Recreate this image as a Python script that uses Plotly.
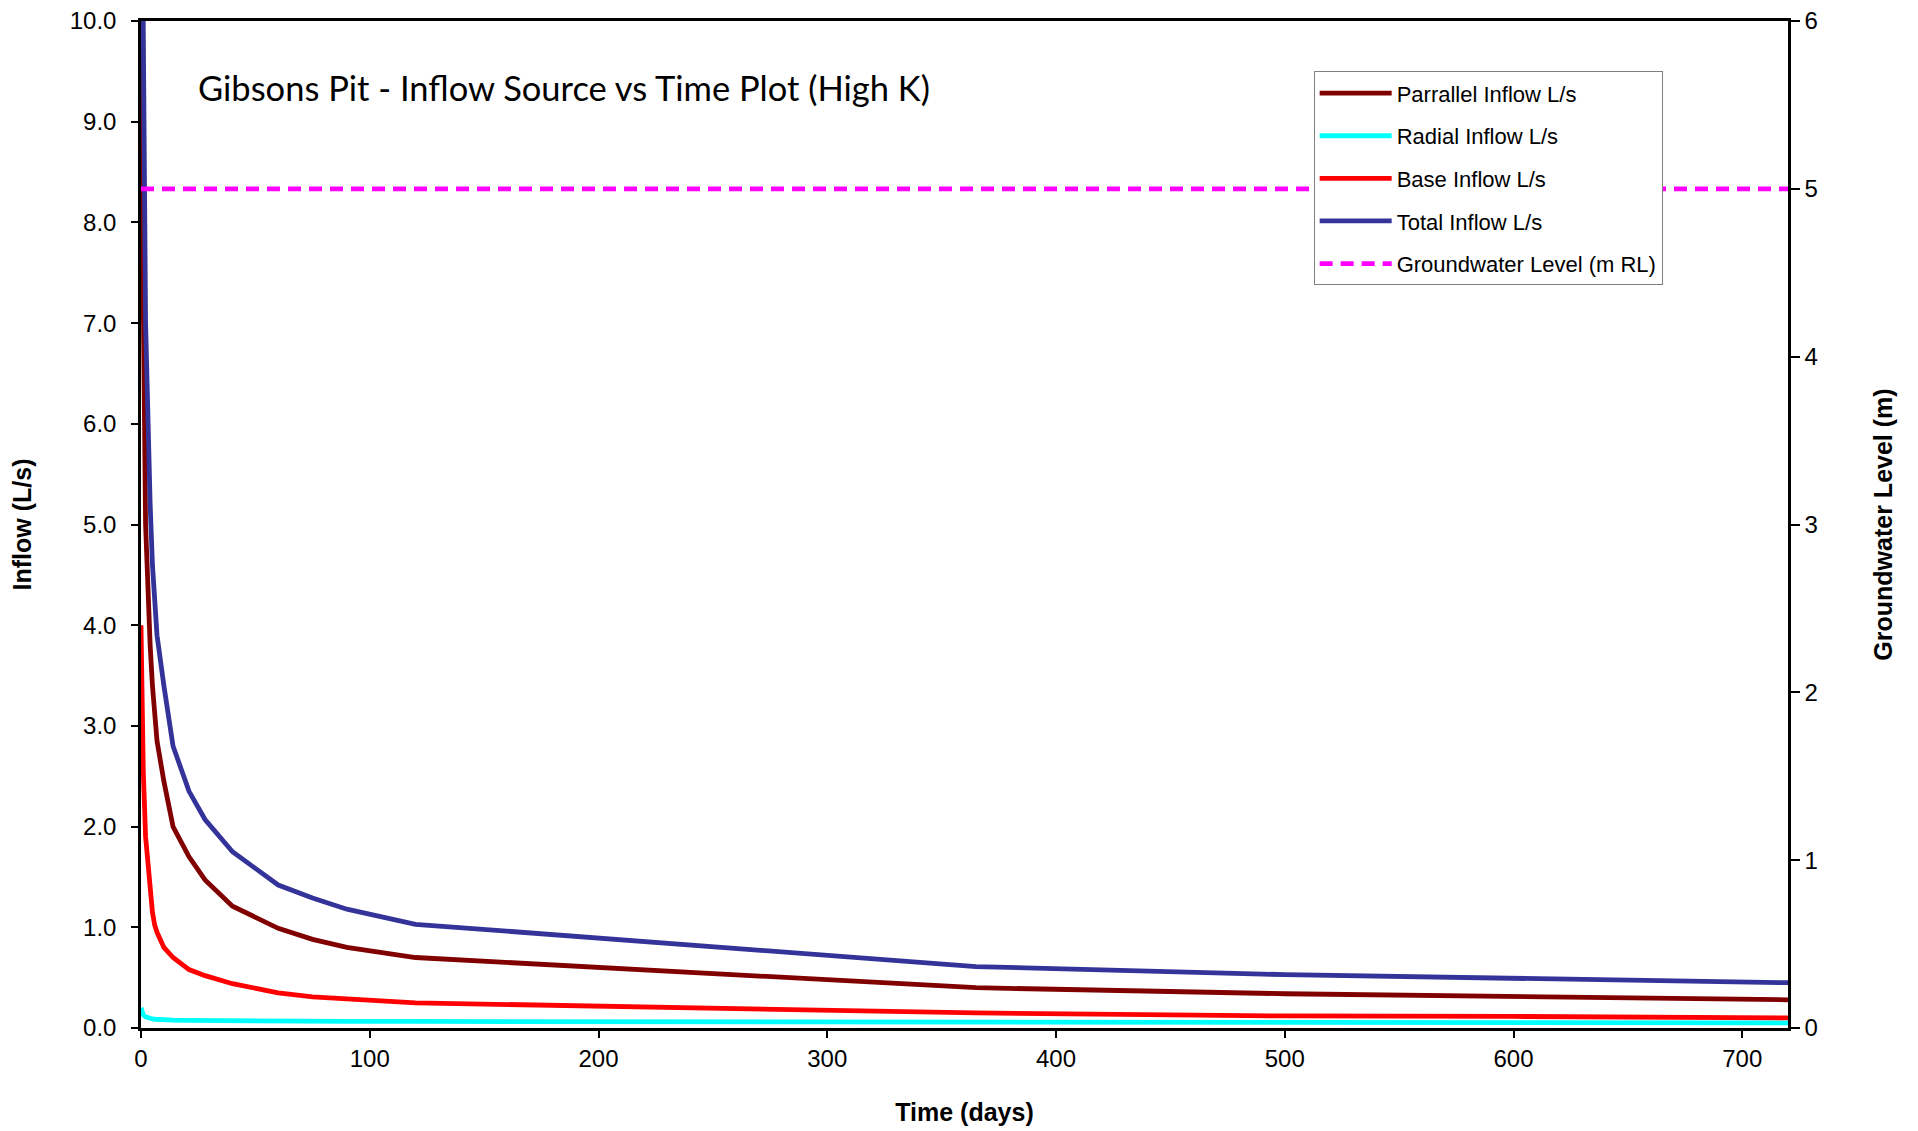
import plotly.graph_objects as go

# ---- data ----
days = [0, 1, 2, 3, 4, 5, 6, 7, 10, 14, 21, 28, 40, 60, 75, 90, 120, 365, 500, 600, 720]
parallel = [12.0, 7.2, 5.0, 4.3, 3.8, 3.4, 3.1, 2.85, 2.45, 2.0, 1.7, 1.47, 1.21, 0.99, 0.88, 0.80, 0.70, 0.40, 0.34, 0.31, 0.28]
radial = [0.20, 0.13, 0.11, 0.10, 0.095, 0.09, 0.087, 0.085, 0.08, 0.078, 0.075, 0.073, 0.07, 0.068, 0.067, 0.066, 0.065, 0.06, 0.055, 0.052, 0.05]
base = [4.0, 2.55, 1.9, 1.6, 1.35, 1.15, 1.02, 0.95, 0.80, 0.70, 0.58, 0.52, 0.44, 0.35, 0.31, 0.29, 0.25, 0.15, 0.12, 0.115, 0.10]
total = [16.2, 9.9, 7.0, 5.9, 5.2, 4.6, 4.2, 3.9, 3.4, 2.8, 2.35, 2.07, 1.75, 1.42, 1.29, 1.18, 1.03, 0.61, 0.53, 0.49, 0.45]
gw_days = [0, 720]
gw_level = [5, 5]

series_names = ["Parrallel Inflow L/s", "Radial Inflow L/s", "Base Inflow L/s", "Total Inflow L/s"]
series_colors = ["#800000", "#00FFFF", "#FF0000", "#333399"]
x_ticks = [0, 100, 200, 300, 400, 500, 600, 700]
y_ticks = [0, 1, 2, 3, 4, 5, 6, 7, 8, 9, 10]
y2_ticks = [0, 1, 2, 3, 4, 5, 6]

fig = go.Figure()
for i, (name, vals, col) in enumerate(zip(series_names, [parallel, radial, base, total], series_colors)):
    fig.add_trace(go.Scatter(x=days, y=vals, name=name, mode="lines",
                             line=dict(color=col, width=4.8), legendgroup=f"g{i}"))
fig.add_trace(go.Scatter(x=gw_days, y=gw_level, name="Groundwater Level (m RL)", mode="lines",
                         line=dict(color="#FF00FF", width=4.8, dash="13px,8px"),
                         yaxis="y2", legendgroup="g4"))

tick_font = dict(family="Liberation Sans, Arial", size=24, color="black")
title_font = dict(family="Liberation Sans Narrow, Liberation Sans, Arial", size=25, color="black")

fig.update_layout(
    width=1918, height=1131,
    margin=dict(l=133, r=138, t=13, b=111),
    paper_bgcolor="white", plot_bgcolor="white",
    showlegend=True,
    legend=dict(x=0.712, y=0.950, xanchor="left", yanchor="top",
                bgcolor="white", bordercolor="#808080", borderwidth=1,
                font=dict(family="Liberation Sans, Arial", size=22, color="black"),
                traceorder="grouped", tracegroupgap=11, itemwidth=72),
    xaxis=dict(range=[0, 720], tickvals=x_ticks, ticks="outside", ticklen=7, tickwidth=1.5,
               tickcolor="black", showline=True, linecolor="black", linewidth=2.5, mirror=True,
               showgrid=False, zeroline=False, tickfont=tick_font, automargin=False,
               ticklabeloverflow="allow",
               title=dict(text="<b>Time (days)</b>", font=title_font, standoff=33)),
    yaxis=dict(range=[0, 10], tickvals=y_ticks, tickformat=".1f", ticks="outside", ticklen=7,
               tickwidth=1.5, tickcolor="black", showline=True, linecolor="black", linewidth=2.5,
               showgrid=False, zeroline=False, tickfont=tick_font, ticklabelstandoff=10,
               automargin=False, ticklabeloverflow="allow",
               title=dict(text="<b>Inflow (L/s)</b>", font=title_font, standoff=36)),
    yaxis2=dict(range=[0, 6], tickvals=y2_ticks, overlaying="y", side="right", ticks="outside",
                ticklen=9, tickwidth=1.5, tickcolor="black", showline=True, linecolor="black",
                linewidth=2.5, showgrid=False, zeroline=False, tickfont=tick_font,
                automargin=False, ticklabeloverflow="allow",
                title=dict(text="<b>Groundwater Level (m)</b>", font=title_font, standoff=58)),
    annotations=[dict(text="Gibsons Pit - Inflow Source vs Time Plot (High K)",
                      x=0.0334, y=0.9335, xref="paper", yref="paper", xanchor="left",
                      yanchor="middle", showarrow=False,
                      font=dict(family="Lato, Open Sans", size=34.5, color="black"))],
)

fig.write_html("out.html")
